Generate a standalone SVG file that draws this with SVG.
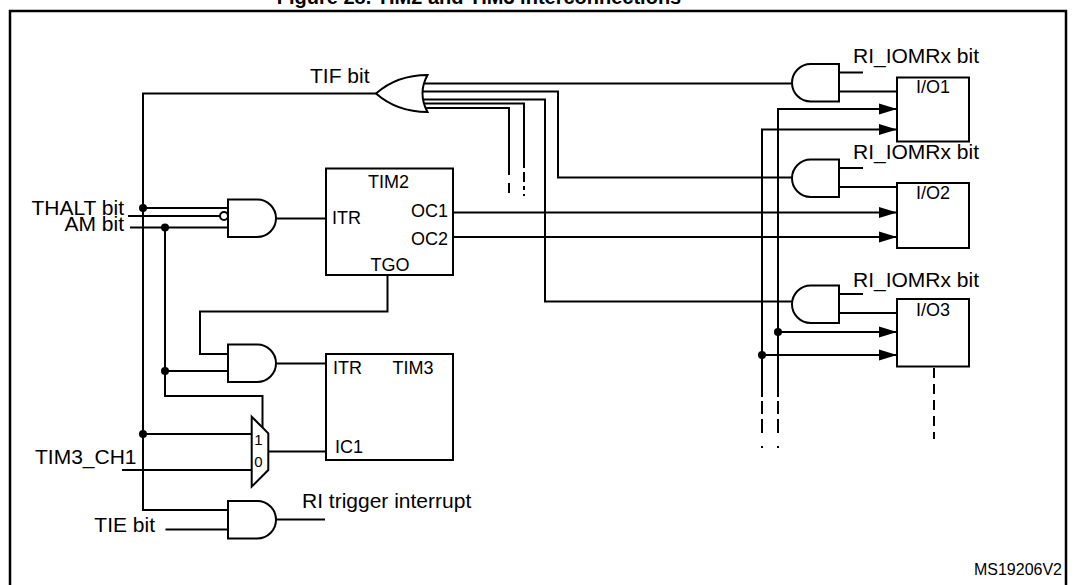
<svg xmlns="http://www.w3.org/2000/svg" width="1076" height="585" viewBox="0 0 1076 585">
<defs>
<style>
.w{fill:none;stroke:#000;stroke-width:2}
.d{fill:none;stroke:#000;stroke-width:2;stroke-dasharray:10 6}
.g{fill:#fff;stroke:#000;stroke-width:2}
.t{font-family:"Liberation Sans",Arial,sans-serif;font-size:21px;fill:#000}
.s{font-family:"Liberation Sans",Arial,sans-serif;font-size:18px;fill:#000}
.m{font-family:"Liberation Sans",Arial,sans-serif;font-size:15px;fill:#000}
</style>
<marker id="arr" markerWidth="18" markerHeight="12" refX="18" refY="6" orient="auto" markerUnits="userSpaceOnUse"><path d="M0,0.5 L18,6 L0,11.5 Z" fill="#000"/></marker>
</defs>
<rect width="1076" height="585" fill="#fff"/>
<text x="479" y="4" text-anchor="middle" font-family="Liberation Sans,Arial,sans-serif" font-size="20" font-weight="bold">Figure 28. TIM2 and TIM3 interconnections</text>
<rect x="10" y="11" width="1056" height="620" fill="none" stroke="#000" stroke-width="2.5"/>

<g id="connectors">
<path class="w" d="M376,93.5 H143 V510 H228"/>
<path class="w" d="M143,208 H228"/>
<path class="w" d="M128,216 H220"/>
<path class="w" d="M130,227.5 H228"/>
<path class="w" d="M165,227.5 V396 H262.5 V428"/>
<path class="w" d="M165,371 H228"/>
<path class="w" d="M387.5,275 V311.5 H200 V354 H228"/>
<path class="w" d="M276,218.5 H326"/>
<path class="w" d="M276,363.5 H326"/>
<path class="w" d="M143,434 H252"/>
<path class="w" d="M122,470 H252"/>
<path class="w" d="M268,451.5 H326"/>
<path class="w" d="M165.5,529.5 H228"/>
<path class="w" d="M276,519.5 H325"/>
<path class="w" d="M453,212.5 H897" marker-end="url(#arr)"/>
<path class="w" d="M453,237 H897" marker-end="url(#arr)"/>
<path class="w" d="M415,83.5 H792"/>
<path class="w" d="M415,91.5 H558 V177.5 H793"/>
<path class="w" d="M415,99.5 H545 V301.5 H793"/>
<path class="w" d="M415,103.5 H524 V168"/>
<path class="w" d="M415,108 H509 V175"/>
<path class="w" d="M524,172 V182 M524,186 V190 M524,194 V196"/>
<path class="w" d="M509,183 V193"/>
<path class="w" d="M778,397 V109 H897" marker-end="url(#arr)"/>
<path class="w" d="M762,397 V129.5 H897" marker-end="url(#arr)"/>
<path class="w" d="M778,332 H897" marker-end="url(#arr)"/>
<path class="w" d="M762,355 H897" marker-end="url(#arr)"/>
<path class="w" d="M778,401 V414 M778,419 V433 M778,446 V448"/>
<path class="w" d="M762,401 V414 M762,419 V433 M762,446 V448"/>
<path class="w" d="M839,72.5 H863 M839,91.5 H897"/>
<path class="w" d="M839,168 H863 M839,187 H897"/>
<path class="w" d="M839,294 H863 M839,313 H897"/>
<path class="d" d="M934,368 V439"/>
<g fill="#000">
<circle cx="143" cy="208" r="4"/>
<circle cx="143" cy="434" r="4"/>
<circle cx="165" cy="227.5" r="4"/>
<circle cx="165" cy="371" r="4"/>
<circle cx="778" cy="332" r="4"/>
<circle cx="762" cy="355" r="4"/>
</g>
</g>

<g id="or-tif">
<path class="g" d="M427.5,75 Q417.5,93.5 427.5,112 C405,112 388,104 376,93.5 C388,83 405,75 427.5,75 Z"/>
<text class="t" x="310" y="83">TIF bit</text>
</g>

<g id="and-itr2">
<path class="g" d="M228,199.5 H257.25 A18.75,18.75 0 0 1 257.25,237 H228 Z"/>
<circle class="g" cx="224" cy="216" r="4"/>
</g>
<g id="labels-left">
<text class="t" x="124" y="215" text-anchor="end">THALT bit</text>
<text class="t" x="124" y="231" text-anchor="end">AM bit</text>
<text class="t" x="35" y="464">TIM3_CH1</text>
<text class="t" x="155" y="532" text-anchor="end">TIE bit</text>
</g>

<g id="tim2">
<rect class="g" x="326" y="168.5" width="127" height="106.5"/>
<text class="s" x="388.5" y="188" text-anchor="middle">TIM2</text>
<text class="s" x="332" y="224">ITR</text>
<text class="s" x="448" y="217" text-anchor="end">OC1</text>
<text class="s" x="448" y="245" text-anchor="end">OC2</text>
<text class="s" x="390" y="271" text-anchor="middle">TGO</text>
</g>

<g id="and-itr3">
<path class="g" d="M228,344.5 H257.25 A18.75,18.75 0 0 1 257.25,382 H228 Z"/>
</g>

<g id="tim3">
<rect class="g" x="326" y="354" width="127" height="106"/>
<text class="s" x="333" y="374">ITR</text>
<text class="s" x="392.5" y="374">TIM3</text>
<text class="s" x="335" y="453">IC1</text>
</g>

<g id="mux">
<path class="g" d="M251.7,416.7 L268.3,433.3 V470 L251.7,486.7 Z"/>
<text class="m" x="258.5" y="445" text-anchor="middle">1</text>
<text class="m" x="258.5" y="467" text-anchor="middle">0</text>
</g>

<g id="and-tie">
<path class="g" d="M228,501 H257.25 A18.75,18.75 0 0 1 257.25,538.5 H228 Z"/>
<text class="t" x="302" y="508">RI trigger interrupt</text>
</g>

<g id="and-io1">
<path class="g" d="M839,64 H810.75 A18.75,18.75 0 0 0 810.75,101.5 H839 Z"/>
<text class="t" x="853" y="62.5">RI_IOMRx bit</text>
</g>
<g id="io1">
<rect class="g" x="897" y="77.5" width="72" height="64"/>
<text class="s" x="933" y="93" text-anchor="middle">I/O1</text>
</g>

<g id="and-io2">
<path class="g" d="M839,159.5 H810.75 A18.75,18.75 0 0 0 810.75,197 H839 Z"/>
<text class="t" x="853" y="159">RI_IOMRx bit</text>
</g>
<g id="io2">
<rect class="g" x="897" y="183" width="72" height="65"/>
<text class="s" x="933" y="198.5" text-anchor="middle">I/O2</text>
</g>

<g id="and-io3">
<path class="g" d="M839,285.5 H810.75 A18.75,18.75 0 0 0 810.75,323 H839 Z"/>
<text class="t" x="853" y="287">RI_IOMRx bit</text>
</g>
<g id="io3">
<rect class="g" x="897" y="299" width="72" height="67.5"/>
<text class="s" x="933" y="315.5" text-anchor="middle">I/O3</text>
</g>

<text x="1062" y="575" text-anchor="end" font-family="Liberation Sans,Arial,sans-serif" font-size="16">MS19206V2</text>
</svg>
